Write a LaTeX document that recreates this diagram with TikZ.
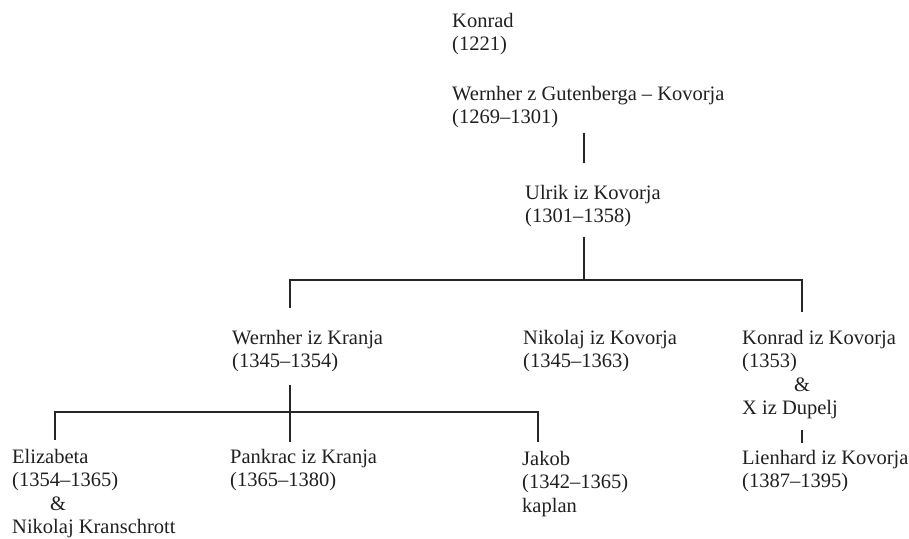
\documentclass[tikz,border=0pt]{standalone}
\usepackage{fontspec}
\setmainfont{Liberation Serif}
\begin{document}
\begin{tikzpicture}[x=1pt,y=-1pt,
  person/.style={anchor=base west, inner sep=0pt, align=left,
    font=\fontsize{20.5}{23.6}\selectfont, text=black!88},
  link/.style={line width=1.3pt, draw=black!85}]
\useasboundingbox (0,0) rectangle (909,538);
% people (anchored at the baseline of their last line)
\node[person] (konrad) at (452,50.6) {Konrad\\(1221)};
\node[person] (wernherg) at (452,123.6) {Wernher z Gutenberga – Kovorja\\(1269–1301)};
\node[person] (ulrik) at (525,222.6) {Ulrik iz Kovorja\\(1301–1358)};
\node[person] (wernherk) at (232,367.6) {Wernher iz Kranja\\(1345–1354)};
\node[person] (nikolaj) at (523,367.6) {Nikolaj iz Kovorja\\(1345–1363)};
\node[person] (konradk) at (742,414.8) {Konrad iz Kovorja\\(1353)\\\hspace*{52pt}\&\\X iz Dupelj};
\node[person] (lienhard) at (742,487.6) {Lienhard iz Kovorja\\(1387–1395)};
\node[person] (elizabeta) at (12,533.8) {Elizabeta\\(1354–1365)\\\hspace*{38pt}\&\\Nikolaj Kranschrott};
\node[person] (pankrac) at (230,486.6) {Pankrac iz Kranja\\(1365–1380)};
\node[person] (jakob) at (522,512.2) {Jakob\\(1342–1365)\\kaplan};
% junction coordinates
\coordinate (wg-b) at (584,133);
\coordinate (ul-t) at (584,163);
\coordinate (ul-b) at (584,237);
\coordinate (j1) at (584,280);
\coordinate (j1l) at (290,280);
\coordinate (j1r) at (802,280);
\coordinate (wk-t) at (290,308);
\coordinate (kk-t) at (802,312);
\coordinate (wk-b) at (290,385);
\coordinate (j2) at (290,412);
\coordinate (j2l) at (55,412);
\coordinate (j2r) at (538,412);
\coordinate (el-t) at (55,440);
\coordinate (pa-t) at (290,442);
\coordinate (ja-t) at (538,442);
\coordinate (kk-b) at (802,430);
\coordinate (li-t) at (802,443);
% connectors
\draw[link] (wg-b) -- (ul-t);
\draw[link] (ul-b) -- (j1);
\draw[link] (wk-t) -- (j1l) -- (j1r) -- (kk-t);
\draw[link] (wk-b) -- (pa-t);
\draw[link] (el-t) -- (j2l) -- (j2r) -- (ja-t);
\draw[link] (kk-b) -- (li-t);
\end{tikzpicture}
\end{document}
